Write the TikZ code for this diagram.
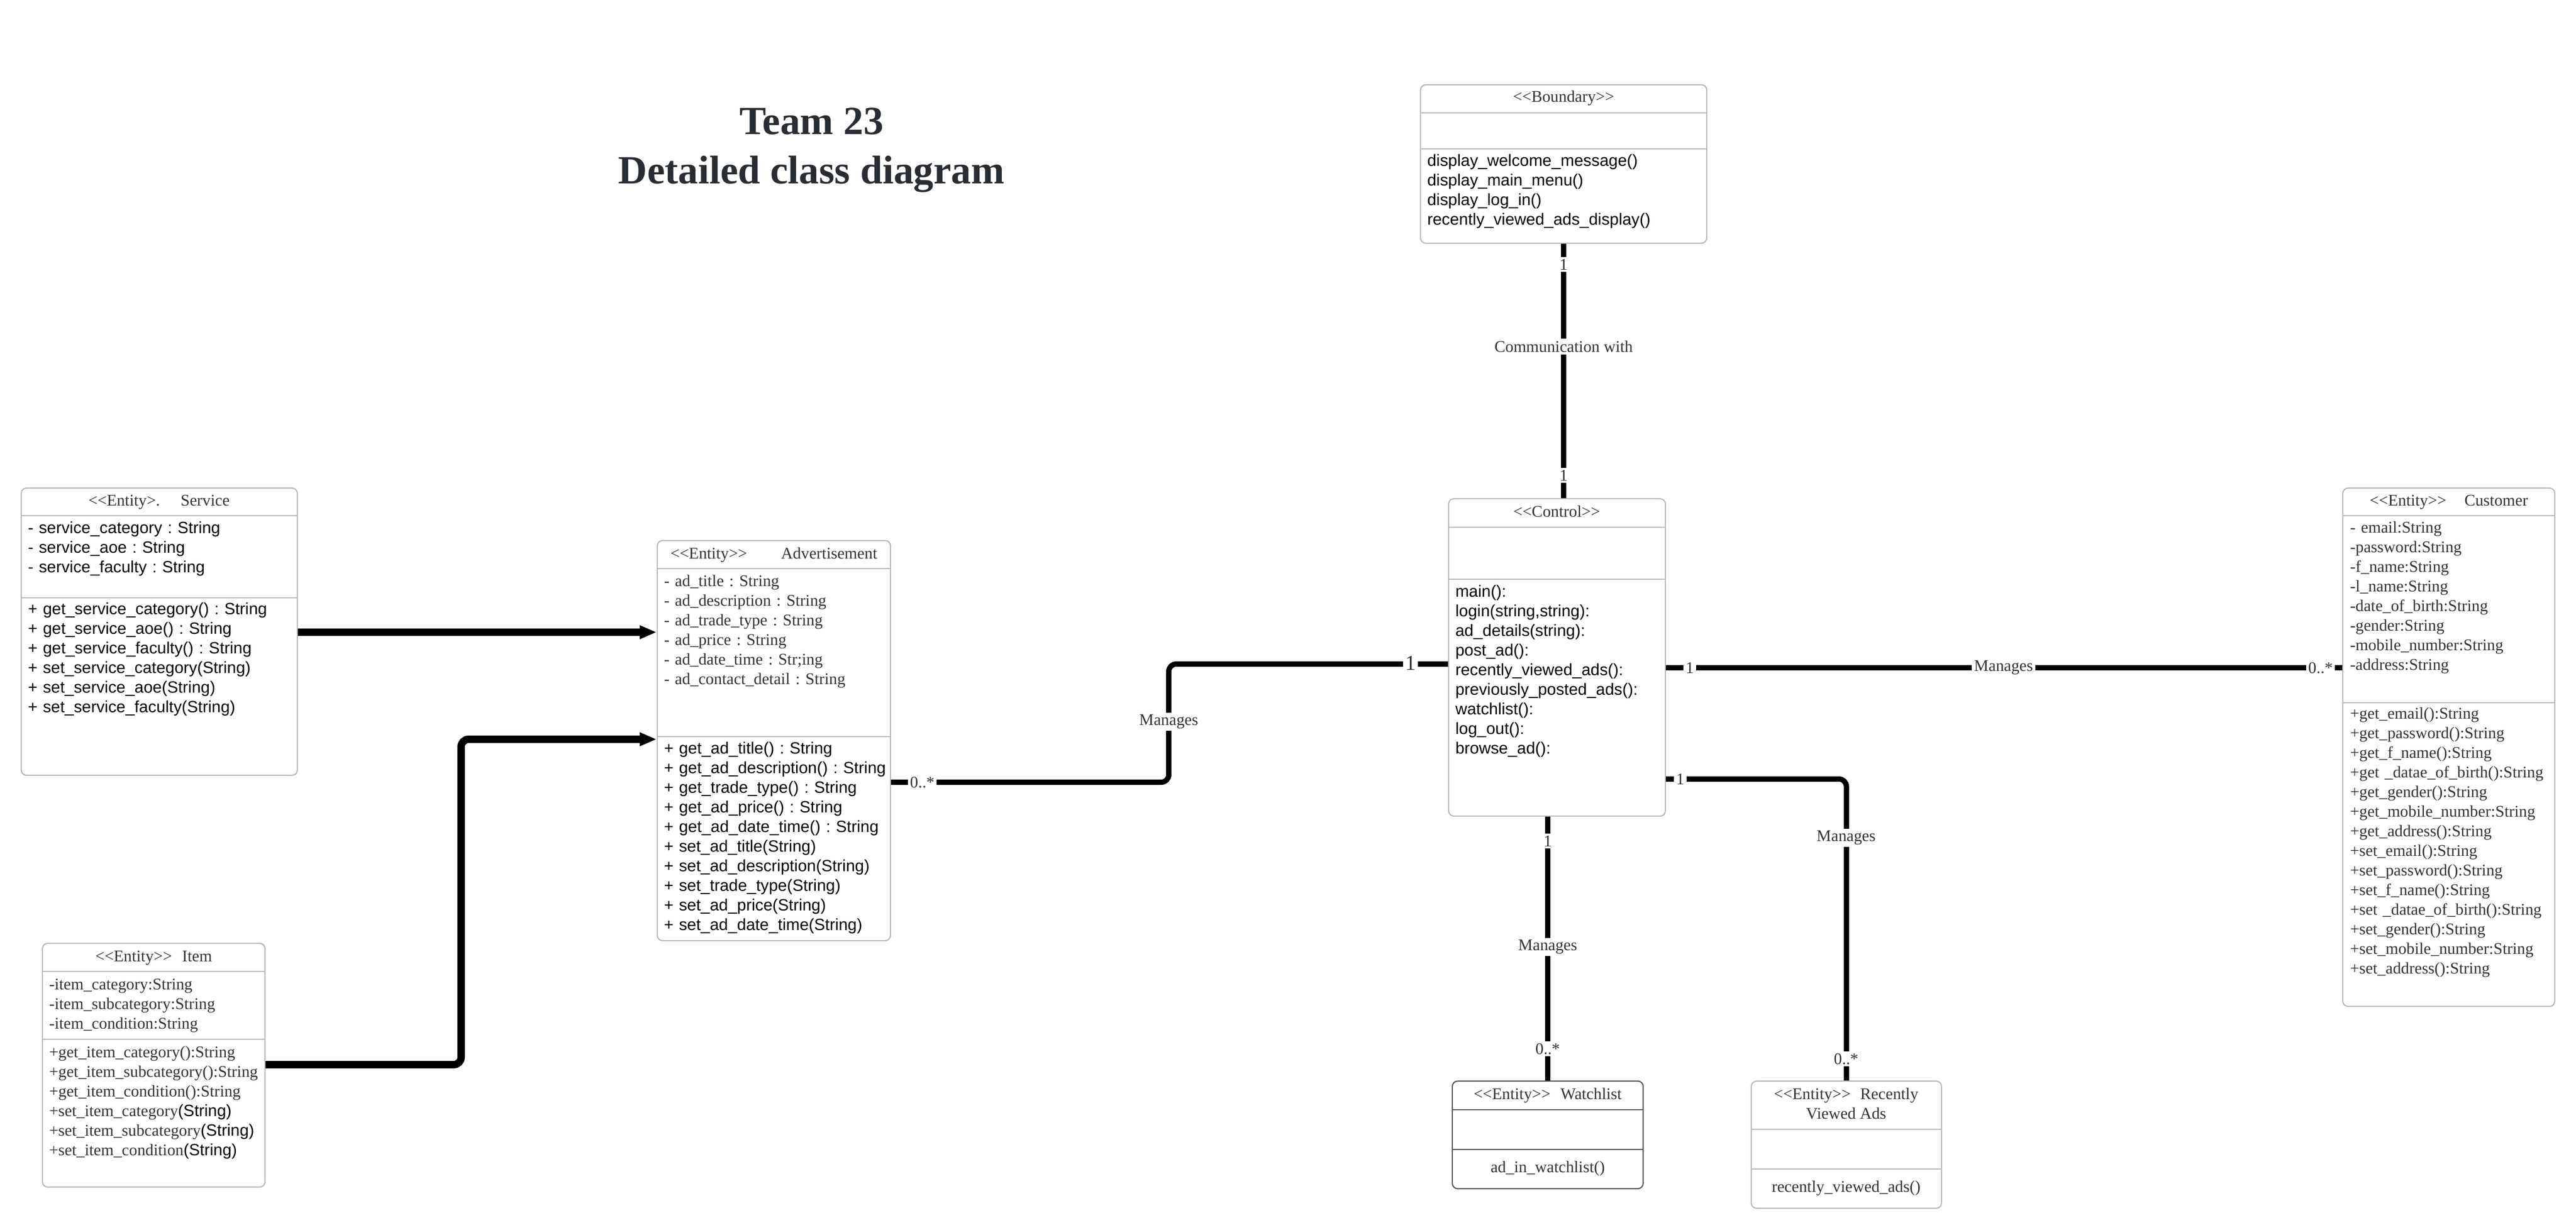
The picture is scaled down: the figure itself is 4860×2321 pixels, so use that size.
\documentclass[tikz,border=0pt]{standalone}
\usepackage{fontspec}
\setmainfont{Liberation Serif}
\setsansfont{Liberation Sans}
\usetikzlibrary{arrows.meta,fit}
\definecolor{txtgray}{HTML}{333333}
\definecolor{titlegray}{HTML}{282C33}
\definecolor{boxgray}{HTML}{B8B8B8}
\definecolor{boxdark}{HTML}{555555}
\newcommand\myll{<\kern0pt<}
\newcommand\mygg{>\kern0pt>}
\frenchspacing
\begin{document}
\begin{tikzpicture}[x=0.25pt,y=-0.25pt,
 umlbox/.style={draw=boxgray, line width=0.55pt, rounded corners=2.5pt, inner sep=0pt},
 divline/.style={draw=boxgray, line width=0.5pt},
 hdr/.style={font=\fontsize{7.7pt}{9.25pt}\selectfont, text=txtgray, inner sep=0pt, anchor=base},
 serifblk/.style={font=\fontsize{7.7pt}{9.25pt}\selectfont, text=txtgray, inner sep=0pt, anchor=base west, text width=130pt, align=left},
 sansblk/.style={font=\sffamily\fontsize{7.7pt}{9.25pt}\selectfont, text=black, inner sep=0pt, anchor=base west, text width=130pt, align=left},
 assoc/.style={line width=2.5pt, rounded corners=3.5pt},
 arr/.style={line width=3.5pt, rounded corners=3.5pt, -{Triangle[length=8pt,width=6pt]}},
 lbl/.style={font=\fontsize{7.7pt}{9.25pt}\selectfont, text=txtgray, fill=white, inner sep=1pt},
 ttl/.style={font=\bfseries\fontsize{18.85pt}{22.5pt}\selectfont, text=titlegray, anchor=base, inner sep=0pt},
]
\fill[white] (0,0) rectangle (4860,2321);
\useasboundingbox (0,0) rectangle (4860,2321);

% title
\node[ttl] (title1) at (1531,254) {Team 23};
\node[ttl] (title2) at (1531,347) {Detailed class diagram};

% boxes
\node[umlbox, fit={(40,921) (561,1463)}] (service) {};
\node[umlbox, fit={(1240,1020) (1680,1775)}] (adv) {};
\node[umlbox, fit={(80,1780) (500,2240)}] (item) {};
\node[umlbox, fit={(2680,160) (3220,459)}] (bnd) {};
\node[umlbox, fit={(2733,941) (3142,1540)}] (ctrl) {};
\node[umlbox, fit={(4420,921) (4820,1899)}] (cust) {};
\node[umlbox, draw=boxdark, fit={(2740,2040) (3100,2243)}] (watch) {};
\node[umlbox, fit={(3304,2040) (3663,2280)}] (recent) {};

% dividers
\draw[divline] (service.west |- 0,973) -- (service.east |- 0,973);
\draw[divline] (service.west |- 0,1128) -- (service.east |- 0,1128);
\draw[divline] (adv.west |- 0,1073) -- (adv.east |- 0,1073);
\draw[divline] (adv.west |- 0,1390) -- (adv.east |- 0,1390);
\draw[divline] (item.west |- 0,1833) -- (item.east |- 0,1833);
\draw[divline] (item.west |- 0,1961) -- (item.east |- 0,1961);
\draw[divline] (bnd.west |- 0,213) -- (bnd.east |- 0,213);
\draw[divline] (bnd.west |- 0,281) -- (bnd.east |- 0,281);
\draw[divline] (ctrl.west |- 0,995) -- (ctrl.east |- 0,995);
\draw[divline] (ctrl.west |- 0,1093) -- (ctrl.east |- 0,1093);
\draw[divline] (cust.west |- 0,973) -- (cust.east |- 0,973);
\draw[divline] (cust.west |- 0,1326) -- (cust.east |- 0,1326);
\draw[divline, draw=boxdark] (watch.west |- 0,2094) -- (watch.east |- 0,2094);
\draw[divline, draw=boxdark] (watch.west |- 0,2169) -- (watch.east |- 0,2169);
\draw[divline] (recent.west |- 0,2131) -- (recent.east |- 0,2131);
\draw[divline] (recent.west |- 0,2206) -- (recent.east |- 0,2206);

% Service
\node[hdr] (servicehdr) at (300,954) {\myll Entity>.\hspace{9.75pt}Service};
\node[sansblk] (serviceattr) at (52,1006) {- service\_category : String\\- service\_aoe : String\\- service\_faculty : String};
\node[sansblk] (serviceops) at (52,1159) {+ get\_service\_category() : String\\+ get\_service\_aoe() : String\\+ get\_service\_faculty() : String\\+ set\_service\_category(String)\\+ set\_service\_aoe(String)\\+ set\_service\_faculty(String)};

% Advertisement
\node[hdr] (advhdr) at (1460,1054) {\myll Entity\mygg\hspace{16pt}Advertisement};
\node[serifblk] (advattr) at (1252,1106) {- ad\_title : String\\- ad\_description : String\\- ad\_trade\_type : String\\- ad\_price : String\\- ad\_date\_time : Str;ing\\- ad\_contact\_detail : String};
\node[sansblk] (advops) at (1252,1422) {+ get\_ad\_title() : String\\+ get\_ad\_description() : String\\+ get\_trade\_type() : String\\+ get\_ad\_price() : String\\+ get\_ad\_date\_time() : String\\+ set\_ad\_title(String)\\+ set\_ad\_description(String)\\+ set\_trade\_type(String)\\+ set\_ad\_price(String)\\+ set\_ad\_date\_time(String)};

% Item
\node[hdr] (itemhdr) at (290,1814) {\myll Entity\mygg\hspace{4.75pt}Item};
\node[serifblk] (itemattr) at (92,1867) {-item\_category:String\\-item\_subcategory:String\\-item\_condition:String};
\node[serifblk] (itemops) at (92,1995) {+get\_item\_category():String\\+get\_item\_subcategory():String\\+get\_item\_condition():String\\+set\_item\_category{\sffamily\color{black}(String)}\\+set\_item\_subcategory{\sffamily\color{black}(String)}\\+set\_item\_condition{\sffamily\color{black}(String)}};

% Boundary
\node[hdr] (bndhdr) at (2950,193) {\myll Boundary\mygg};
\node[sansblk] (bndops) at (2692,314) {display\_welcome\_message()\\display\_main\_menu()\\display\_log\_in()\\recently\_viewed\_ads\_display()};

% Control
\node[hdr] (ctrlhdr) at (2937,975) {\myll Control\mygg};
\node[sansblk] (ctrlops) at (2745,1126) {main():\\login(string,string):\\ad\_details(string):\\post\_ad():\\recently\_viewed\_ads():\\previously\_posted\_ads():\\watchlist():\\log\_out():\\browse\_ad():};

% Customer
\node[hdr] (custhdr) at (4620,954) {\myll Entity\mygg\hspace{8.5pt}Customer};
\node[serifblk] (custattr) at (4433,1005) {- email:String\\-password:String\\-f\_name:String\\-l\_name:String\\-date\_of\_birth:String\\-gender:String\\-mobile\_number:String\\-address:String};
\node[serifblk] (custops) at (4433,1356) {+get\_email():String\\+get\_password():String\\+get\_f\_name():String\\+get \_datae\_of\_birth():String\\+get\_gender():String\\+get\_mobile\_number:String\\+get\_address():String\\+set\_email():String\\+set\_password():String\\+set\_f\_name():String\\+set \_datae\_of\_birth():String\\+set\_gender():String\\+set\_mobile\_number:String\\+set\_address():String};

% Watchlist
\node[hdr] (watchhdr) at (2920,2074) {\myll Entity\mygg\hspace{4.75pt}Watchlist};
\node[hdr] (watchops) at (2920,2212) {ad\_in\_watchlist()};

% Recently viewed
\node[hdr] (recenthdr) at (3483,2074) {\myll Entity\mygg\hspace{4.5pt}Recently};
\node[hdr] (recenthdrb) at (3483,2111) {Viewed Ads};
\node[hdr] (recentops) at (3483,2249) {recently\_viewed\_ads()};

% connectors
\draw[arr] (service.east |- 0,1193) -- (adv.west |- 0,1193);
\draw[arr] (item.east |- 0,2009) -| (870,1395) -- (adv.west |- 0,1395);
\draw[assoc] (adv.east |- 0,1476) -| (2205,1253) -- (ctrl.west |- 0,1253);
\draw[assoc] (bnd.south) -- (ctrl.north -| bnd.south);
\draw[assoc] (ctrl.east |- 0,1260) -- (cust.west |- 0,1260);
\draw[assoc] (ctrl.east |- 0,1470) -| (recent.north);
\draw[assoc] (ctrl.south -| watch.north) -- (watch.north);

% labels
\node[lbl] (lb1) at (2950,499) {1};
\node[lbl] (lb2) at (2950,654) {Communication with};
\node[lbl] (lb3) at (2950,897) {1};
\node[lbl] (la1) at (1740,1476) {0..*};
\node[lbl] (la2) at (2205,1362) {Manages};
\node[lbl, font=\fontsize{10pt}{12pt}\selectfont] (la3) at (2661,1251) {1};
\node[lbl] (lc1) at (3188,1260) {1};
\node[lbl] (lc2) at (3780,1260) {Manages};
\node[lbl] (lc3) at (4378,1260) {0..*};
\node[lbl] (lr1) at (3170,1470) {1};
\node[lbl] (lr2) at (3483,1581) {Manages};
\node[lbl] (lr3) at (3483,1998) {0..*};
\node[lbl] (lw1) at (2920,1587) {1};
\node[lbl] (lw2) at (2920,1787) {Manages};
\node[lbl] (lw3) at (2920,1979) {0..*};
\end{tikzpicture}
\end{document}
